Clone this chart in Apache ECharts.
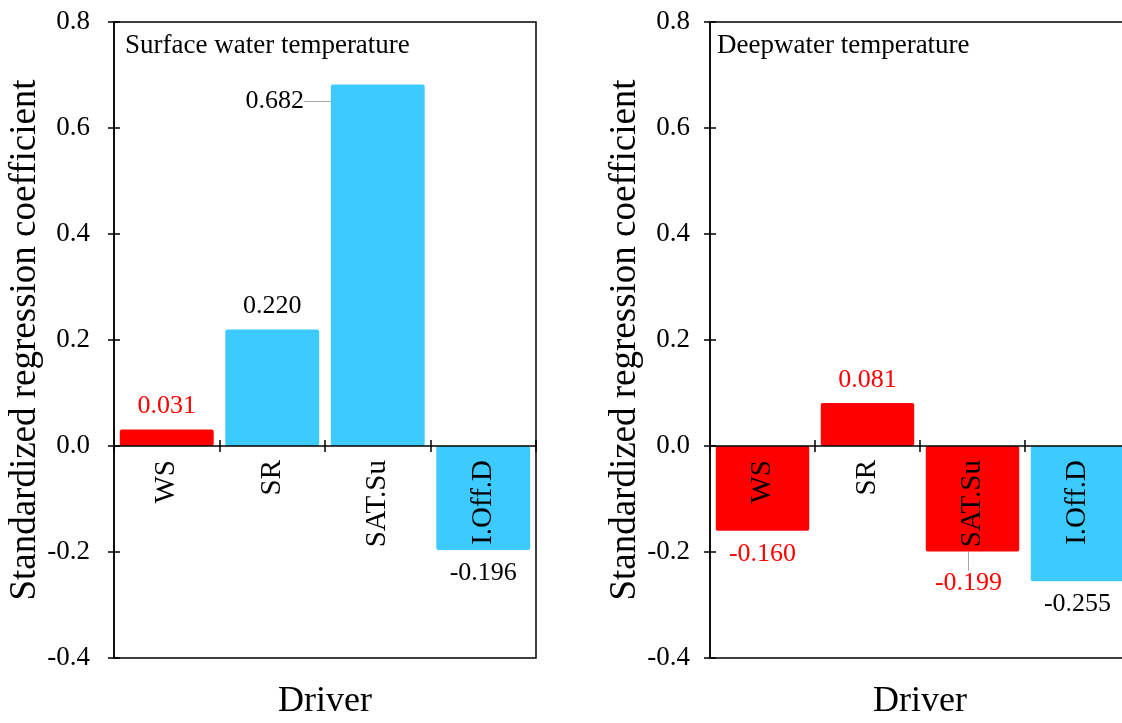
<!DOCTYPE html>
<html lang="en">
<head>
    <meta charset="UTF-8">
    <title>Standardized regression coefficient</title>
    <script src="https://cdn.jsdelivr.net/npm/echarts@6/dist/echarts.min.js"></script>
    <style>
        html, body { margin: 0; padding: 0; background: #fff; }
    </style>
</head>
<body>
<div id="chartmain" style="width:1122px; height:723px;"></div>
<script type="text/javascript">

    // data
    var categories = ['WS', 'SR', 'SAT.Su', 'I.Off.D'];
    var surfaceValues = [0.031, 0.220, 0.682, -0.196];   // Surface water temperature
    var deepValues = [-0.160, 0.081, -0.199, -0.255];    // Deepwater temperature
    var yTicks = [-0.4, -0.2, 0.0, 0.2, 0.4, 0.6, 0.8];

    // styling
    var RED = '#FF0000', BLUE = '#3DCBFF';
    var surfaceColors = [RED, BLUE, BLUE, BLUE];
    var deepColors = [RED, RED, RED, BLUE];
    var FONT = '"Liberation Serif", "Times New Roman", serif';
    var GRID_TOP = 22, GRID_H = 636;
    // labels moved away from their bar (dataIndex -> shift)
    var surfaceShift = {2: {dx: -103, dy: 40}};
    var deepShift = {2: {dx: -4, dy: 9}};

    function barData(values, colors, shift) {
        return values.map(function (v, i) {
            var item = {
                value: v,
                itemStyle: {color: colors[i]},
                label: {color: colors[i] === RED ? RED : '#000'}
            };
            if (shift[i]) item.labelLine = {show: true};
            return item;
        });
    }

    function valueAxis(grid, main, margin) {
        return {
            gridIndex: grid,
            type: 'value',
            min: yTicks[0],
            max: yTicks[yTicks.length - 1],
            interval: 0.2,
            position: 'left',
            axisLine: {show: main, onZero: false, lineStyle: {color: '#000', width: 1.5}},
            axisTick: {show: true, inside: !main, length: 6, lineStyle: {color: '#000', width: 1.5}},
            axisLabel: {
                show: main, margin: margin, fontSize: 27, color: '#000', fontFamily: FONT,
                formatter: function (v) { return v.toFixed(1); }
            },
            splitLine: {show: false},
            name: main ? 'Standardized regression coefficient' : '',
            nameLocation: 'middle',
            nameGap: 66,
            nameTextStyle: {fontSize: 37, color: '#000', fontFamily: FONT}
        };
    }

    function catAxis(grid, main) {
        return {
            gridIndex: grid,
            type: 'category',
            data: categories,
            position: 'bottom',
            offset: 0,
            z: 5,
            axisLine: {show: main, onZero: false, lineStyle: {color: '#000', width: 1.5}},
            axisTick: {show: true, inside: !main, length: 6, lineStyle: {color: '#000', width: 1.5}},
            axisLabel: {
                show: main, interval: 0, rotate: 90, margin: 14,
                fontSize: 29, color: '#000', fontFamily: FONT
            },
            splitLine: {show: false},
            name: main ? 'Driver' : '',
            nameLocation: 'middle',
            nameGap: 238,
            nameTextStyle: {fontSize: 36, color: '#000', fontFamily: FONT}
        };
    }

    function barSeries(xi, yi, values, colors, shift) {
        return {
            type: 'bar',
            xAxisIndex: xi,
            yAxisIndex: yi,
            barCategoryGap: '11%',
            data: barData(values, colors, shift),
            itemStyle: {borderRadius: 2},
            label: {
                show: true,
                position: 'outside',
                distance: 10,
                fontSize: 26,
                fontFamily: FONT,
                formatter: function (p) { return p.value.toFixed(3); }
            },
            labelLine: {show: false, lineStyle: {color: '#A6A6A6', width: 1}},
            labelLayout: function (p) {
                var s = shift[p.dataIndex];
                return s ? {dx: s.dx, dy: s.dy} : {};
            }
        };
    }

    var option = {
        backgroundColor: '#fff',
        animation: false,
        title: [
            {text: 'Surface water temperature', left: 120, top: 27,
                textStyle: {fontSize: 27, fontWeight: 'normal', color: '#000', fontFamily: FONT}},
            {text: 'Deepwater temperature', left: 712, top: 27,
                textStyle: {fontSize: 27, fontWeight: 'normal', color: '#000', fontFamily: FONT}}
        ],
        grid: [
            {left: 114, top: GRID_TOP, width: 422, height: GRID_H, show: true, borderColor: '#000', borderWidth: 1.5,
                containLabel: false, outerBoundsMode: 'none'},
            {left: 710, top: GRID_TOP, width: 420, height: GRID_H, show: true, borderColor: '#000', borderWidth: 1.5,
                containLabel: false, outerBoundsMode: 'none'}
        ],
        xAxis: [catAxis(0, true), catAxis(0, false), catAxis(1, true), catAxis(1, false)],
        yAxis: [valueAxis(0, true, 24), valueAxis(0, false, 24), valueAxis(1, true, 20), valueAxis(1, false, 20)],
        series: [
            barSeries(0, 0, surfaceValues, surfaceColors, surfaceShift),
            barSeries(2, 2, deepValues, deepColors, deepShift)
        ]
    };

    var myChart = echarts.init(document.getElementById('chartmain'));
    myChart.setOption(option);

    // put the category axes on the zero line of the value axis
    var zeroY = myChart.convertToPixel({yAxisIndex: 0}, 0);
    var shiftUp = zeroY - (GRID_TOP + GRID_H);
    myChart.setOption({
        xAxis: [{offset: shiftUp}, {offset: shiftUp}, {offset: shiftUp}, {offset: shiftUp}]
    });

</script>
</body>
</html>
